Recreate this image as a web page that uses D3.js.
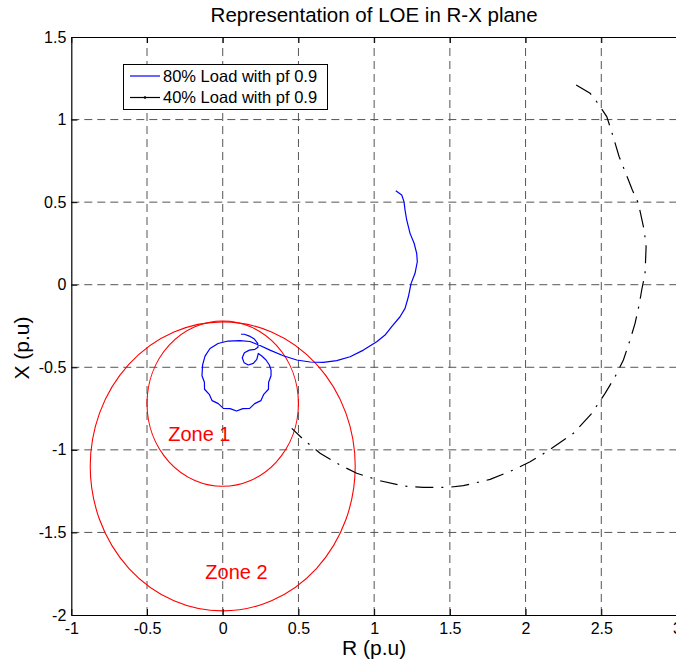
<!DOCTYPE html>
<html>
<head>
<meta charset="utf-8">
<script src="https://cdn.jsdelivr.net/npm/d3@7"></script>
<style>
  html, body { margin: 0; padding: 0; background: #fff; }
  svg { display: block; font-family: "Liberation Sans", Arial, Helvetica, sans-serif; }
</style>
</head>
<body>
<svg id="chart" width="676" height="664"></svg>
<script>
// Axis ticks
const xTicks = [-1, -0.5, 0, 0.5, 1, 1.5, 2, 2.5, 3];
const yTicks = [-2, -1.5, -1, -0.5, 0, 0.5, 1, 1.5];

// Impedance trajectory, 80% load, pf 0.9 (R, X in p.u.)
const load80R = [1.143, 1.182, 1.197, 1.204, 1.215, 1.237, 1.264, 1.281, 1.285, 1.270,
  1.244, 1.226, 1.204, 1.171, 1.116, 1.072, 1.017, 0.929, 0.841, 0.753,
  0.664, 0.577, 0.489, 0.400, 0.312, 0.246, 0.180,
  0.114, 0.035, -0.031, -0.084, -0.117, -0.133,
  -0.137, -0.121, -0.120, -0.089, -0.070, -0.029, 0.004, 0.049, 0.091,
  0.133, 0.178, 0.211, 0.252, 0.271, 0.302, 0.303, 0.319,
  0.319, 0.308, 0.286, 0.258, 0.235, 0.225, 0.202, 0.169, 0.141, 0.129,
  0.143, 0.176, 0.213, 0.233, 0.231, 0.209, 0.176, 0.143, 0.121];
const load80X = [0.569, 0.543, 0.503, 0.452, 0.392, 0.311, 0.251, 0.190, 0.139, 0.069,
  0.008, -0.073, -0.143, -0.194, -0.254, -0.305, -0.345, -0.396, -0.436, -0.460,
  -0.470, -0.468, -0.456, -0.430, -0.396, -0.368, -0.344,
  -0.338, -0.341, -0.356, -0.386, -0.432, -0.486,
  -0.551, -0.591, -0.633, -0.664, -0.702, -0.720, -0.749, -0.750, -0.765,
  -0.750, -0.749, -0.720, -0.702, -0.664, -0.633, -0.591, -0.551,
  -0.517, -0.486, -0.456, -0.432, -0.416, -0.452, -0.476, -0.486, -0.472, -0.442,
  -0.412, -0.396, -0.391, -0.379, -0.355, -0.329, -0.311, -0.300, -0.300];

// Impedance trajectory, 40% load, pf 0.9 (R, X in p.u.)
const load40R = [2.334, 2.426, 2.470, 2.536, 2.565, 2.618, 2.705, 2.745, 2.783, 2.796,
  2.789, 2.767, 2.752, 2.723, 2.690, 2.646, 2.591, 2.525, 2.437, 2.316,
  2.140, 2.030, 1.919, 1.766, 1.589, 1.490, 1.325, 1.193, 1.039, 0.885,
  0.775, 0.643, 0.532, 0.456];
const load40X = [1.210, 1.159, 1.108, 1.018, 0.937, 0.775, 0.574, 0.493, 0.331, 0.230,
  0.069, -0.032, -0.113, -0.234, -0.335, -0.456, -0.557, -0.658, -0.779, -0.900,
  -1.011, -1.072, -1.122, -1.179, -1.217, -1.227, -1.227, -1.219, -1.187, -1.142,
  -1.092, -1.021, -0.936, -0.870];

// Mho relay zones: centre on the X axis and radius (p.u.)
const zoneNames = ["Zone 1", "Zone 2"];
const zoneCenterR = [0, 0];
const zoneCenterX = [-0.72, -1.10];
const zoneRadius = [0.5, 0.875];
const zoneLabelR = [-0.36, -0.115];
const zoneLabelX = [-0.945, -1.785];

const legendLabels = ["80% Load with pf 0.9", "40% Load with pf 0.9"];

const svg = d3.select("#chart");
const plotLeft = 71.3, plotRight = 677, plotTop = 37, plotBottom = 615;

const x = d3.scaleLinear().domain([-1, 3]).range([plotLeft, plotRight]);
const y = d3.scaleLinear().domain([-2, 1.5]).range([plotBottom, plotTop]);

svg.append("rect").attr("width", 676).attr("height", 664).attr("fill", "#fff");

svg.append("defs").append("clipPath").attr("id", "plotArea")
  .append("rect").attr("x", plotLeft).attr("y", plotTop)
  .attr("width", plotRight - plotLeft).attr("height", plotBottom - plotTop);

// Dashed grid
const grid = svg.append("g").attr("stroke", "#555").attr("stroke-width", 1)
  .attr("stroke-dasharray", "8,5");
grid.selectAll("line.v").data(xTicks.slice(1)).join("line")
  .attr("class", "v")
  .attr("x1", d => x(d)).attr("x2", d => x(d))
  .attr("y1", plotBottom).attr("y2", plotTop);
grid.selectAll("line.h").data(yTicks.slice(1, -1)).join("line")
  .attr("class", "h")
  .attr("y1", d => y(d)).attr("y2", d => y(d))
  .attr("x1", plotLeft).attr("x2", plotRight);

const plot = svg.append("g").attr("clip-path", "url(#plotArea)");

// Zone circles
plot.selectAll("ellipse.zone").data(zoneNames).join("ellipse")
  .attr("class", "zone")
  .attr("cx", (d, i) => x(zoneCenterR[i]))
  .attr("cy", (d, i) => y(zoneCenterX[i]))
  .attr("rx", (d, i) => x(zoneRadius[i]) - x(0))
  .attr("ry", (d, i) => y(0) - y(zoneRadius[i]))
  .attr("fill", "none").attr("stroke", "#ff0000").attr("stroke-width", 1.1);

const line = d3.line().x(d => x(d[0])).y(d => y(d[1]));

plot.append("path")
  .datum(load40R.map((r, i) => [r, load40X[i]]))
  .attr("d", line).attr("fill", "none")
  .attr("stroke", "#000").attr("stroke-width", 1.2)
  .attr("stroke-dasharray", "18,8,2,8");

plot.append("path")
  .datum(load80R.map((r, i) => [r, load80X[i]]))
  .attr("d", line).attr("fill", "none")
  .attr("stroke", "#0000ff").attr("stroke-width", 1.2)
  .attr("stroke-linejoin", "round");

// Zone labels
svg.selectAll("text.zone").data(zoneNames).join("text")
  .attr("class", "zone")
  .attr("x", (d, i) => x(zoneLabelR[i]))
  .attr("y", (d, i) => y(zoneLabelX[i]))
  .attr("fill", "#ff0000").attr("font-size", 20)
  .text(d => d);

// Axes with inward ticks; labels use a plain hyphen for negatives
const fmt = d => String(d);
const xAxis = svg.append("g").attr("transform", `translate(0,${plotBottom})`)
  .call(d3.axisBottom(x).tickValues(xTicks).tickFormat(fmt)
    .tickSizeInner(-6).tickSizeOuter(0).tickPadding(8));
const yAxis = svg.append("g").attr("transform", `translate(${plotLeft},0)`)
  .call(d3.axisLeft(y).tickValues(yTicks).tickFormat(fmt)
    .tickSizeInner(-6).tickSizeOuter(0).tickPadding(5));
const topAxis = svg.append("g").attr("transform", `translate(0,${plotTop})`)
  .call(d3.axisTop(x).tickValues(xTicks).tickFormat("")
    .tickSizeInner(-6).tickSizeOuter(0));

[xAxis, yAxis, topAxis].forEach(g => {
  g.select(".domain").attr("stroke", "#000").attr("stroke-width", 1.2);
  g.selectAll(".tick line").attr("stroke", "#000");
  g.selectAll("text").attr("font-size", 16).attr("fill", "#000")
    .attr("font-family", "Liberation Sans, Arial, sans-serif");
});

// Titles
svg.append("text").attr("x", (plotLeft + plotRight) / 2).attr("y", 22)
  .attr("text-anchor", "middle").attr("font-size", 20.5)
  .text("Representation of LOE in R-X plane");
svg.append("text").attr("x", (plotLeft + plotRight) / 2).attr("y", 655)
  .attr("text-anchor", "middle").attr("font-size", 21)
  .text("R (p.u)");
svg.append("text")
  .attr("transform", "translate(29,348) rotate(-90)")
  .attr("text-anchor", "middle").attr("font-size", 21)
  .text("X (p.u)");

// Legend
const lg = svg.append("g");
lg.append("rect").attr("x", 123.5).attr("y", 64.5).attr("width", 204).attr("height", 45)
  .attr("fill", "#fff").attr("stroke", "#000").attr("stroke-width", 1);
const legendColors = ["#0000ff", "#000"];
legendLabels.forEach((t, i) => {
  const yy = 76 + i * 21.5;
  lg.append("line").attr("x1", 130).attr("x2", 160).attr("y1", yy).attr("y2", yy)
    .attr("stroke", legendColors[i]).attr("stroke-width", 1.2);
  if (i === 1) {
    lg.append("circle").attr("cx", 145).attr("cy", yy).attr("r", 1.3).attr("fill", "#000");
  }
  lg.append("text").attr("x", 163).attr("y", yy).attr("dy", "0.35em")
    .attr("font-size", 16.5).text(t);
});
</script>
</body>
</html>
